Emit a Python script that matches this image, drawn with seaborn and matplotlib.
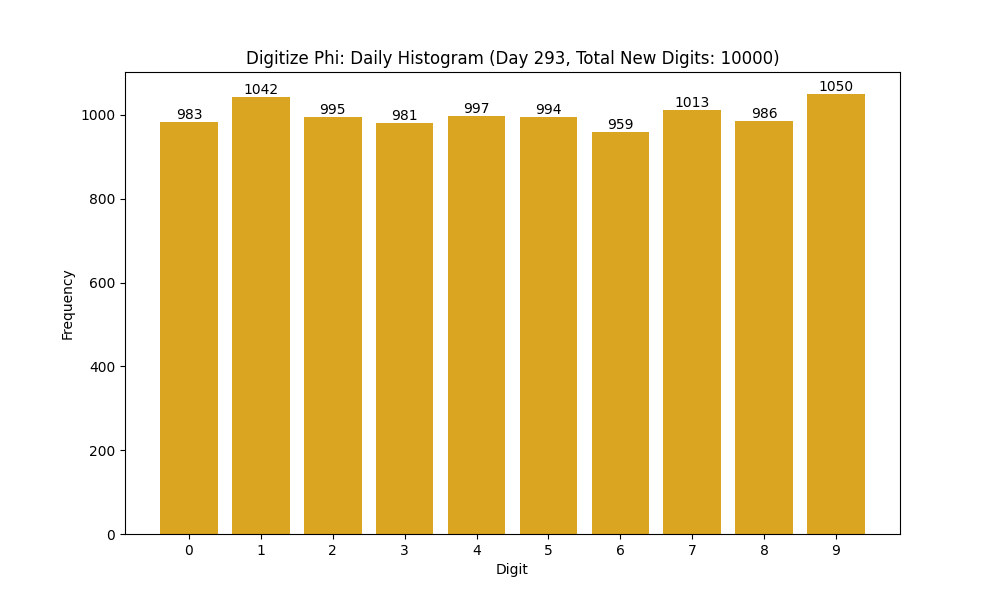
import pandas as pd
import matplotlib
matplotlib.use('Agg')
import matplotlib.pyplot as plt
import seaborn as sns

digits = ['0', '1', '2', '3', '4', '5', '6', '7', '8', '9']
counts = [983, 1042, 995, 981, 997, 994, 959, 1013, 986, 1050]

df = pd.DataFrame({'Digit': digits, 'Frequency': counts})

fig, ax = plt.subplots(figsize=(10, 6), dpi=100)
sns.barplot(x='Digit', y='Frequency', data=df, color='goldenrod',
            saturation=1, width=0.8, ax=ax)
ax.bar_label(ax.containers[0], fontsize=10)
ax.set_xlim(-0.89, 9.89)
ax.set_ylim(0, max(counts) * 1.05)
ax.set_title('Digitize Phi: Daily Histogram (Day 293, Total New Digits: 10000)')
ax.set_xlabel('Digit')
ax.set_ylabel('Frequency')
plt.savefig('out.png')
